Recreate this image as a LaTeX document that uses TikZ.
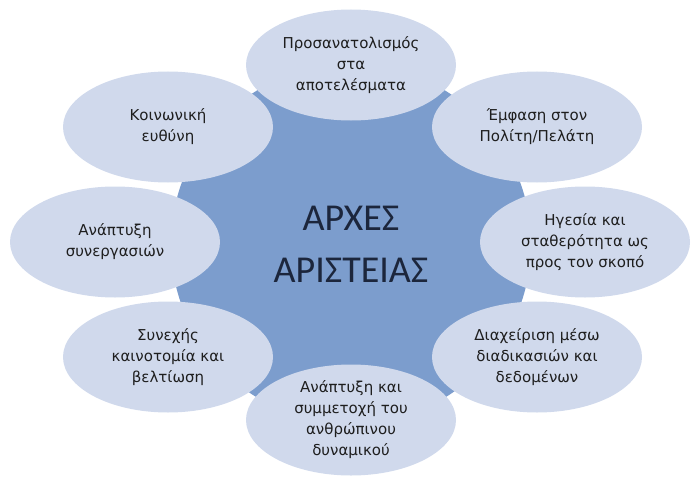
\documentclass[tikz,border=0pt]{standalone}
\usepackage{fontspec}
\setmainfont{DejaVu Sans}
\newfontfamily\titlefont{Carlito}
\usetikzlibrary{shapes.geometric}
\definecolor{petal}{RGB}{208,217,236}
\definecolor{hub}{RGB}{124,157,205}
\definecolor{ink}{RGB}{30,30,30}
\definecolor{titleink}{RGB}{28,38,60}
\begin{document}
\begin{tikzpicture}[x=1pt,y=-1pt,
  petalnode/.style={ellipse,fill=petal,draw=none,minimum width=210pt,minimum height=111pt,
    inner sep=0pt,align=center,text=ink,font=\fontsize{15}{21}\selectfont},
  hubnode/.style={circle,fill=hub,draw=none,minimum size=360pt,inner sep=0pt,align=center,
    text=titleink,font=\titlefont\fontsize{38}{52}\selectfont}]
\useasboundingbox (0,0) rectangle (700,484);
\node[hubnode] (hub) at (351,244) {ΑΡΧΕΣ\\ΑΡΙΣΤΕΙΑΣ};
\node[petalnode] (p1) at (351,65) {Προσανατολισμός\\στα\\αποτελέσματα};
\node[petalnode] (p2) at (537,127) {Έμφαση στον\\Πολίτη/Πελάτη};
\node[petalnode] (p3) at (585,242) {Ηγεσία και\\σταθερότητα ως\\προς τον σκοπό};
\node[petalnode] (p4) at (537,357) {Διαχείριση μέσω\\διαδικασιών και\\δεδομένων};
\node[petalnode] (p5) at (351,420) {Ανάπτυξη και\\συμμετοχή του\\ανθρώπινου\\δυναμικού};
\node[petalnode] (p6) at (168,357) {Συνεχής\\καινοτομία και\\βελτίωση};
\node[petalnode] (p7) at (115,242) {Ανάπτυξη\\συνεργασιών};
\node[petalnode] (p8) at (168,127) {Κοινωνική\\ευθύνη};
\end{tikzpicture}
\end{document}
